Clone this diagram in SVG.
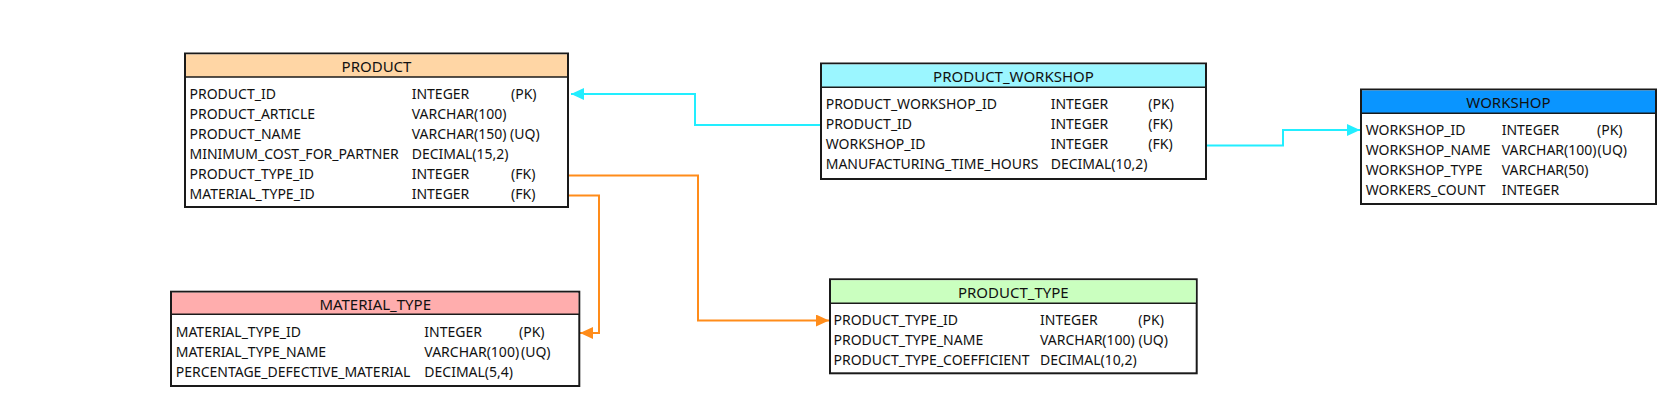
<svg xmlns="http://www.w3.org/2000/svg" width="1676" height="406" viewBox="0 0 1676 406">
<defs>
<style>
text{font-family:"Noto Sans","Open Sans","DejaVu Sans",sans-serif;font-size:14px;fill:#111}
.t{text-anchor:middle;font-size:15px}
.box{fill:#fff;stroke:#1a1a1a;stroke-width:2}
.sep{stroke:#1a1a1a;stroke-width:1.5}
.cy{fill:none;stroke:#22eeff;stroke-width:2}
.or{fill:none;stroke:#ff8c1a;stroke-width:2}
</style>
<marker id="ac" viewBox="0 0 13 12" refX="13" refY="6" markerWidth="13" markerHeight="12" markerUnits="userSpaceOnUse" orient="auto"><path d="M0,0L13,6L0,12z" fill="#22eeff"/></marker>
<marker id="ao" viewBox="0 0 13 12" refX="13" refY="6" markerWidth="13" markerHeight="12" markerUnits="userSpaceOnUse" orient="auto"><path d="M0,0L13,6L0,12z" fill="#ff8c1a"/></marker>
</defs>
<rect width="1676" height="406" fill="#fff"/>
<g id="connectors">
<path class="cy" d="M821,125H695V94H571" marker-end="url(#ac)"/>
<path class="cy" d="M1206,145.5H1283V130H1360" marker-end="url(#ac)"/>
<path class="or" d="M568,175.5H698V320.5H829" marker-end="url(#ao)"/>
<path class="or" d="M568,195.5H599V333H580" marker-end="url(#ao)"/>
</g>
<g id="product">
<rect class="box" x="185" y="53.5" width="383" height="153.5"/>
<rect x="186" y="54.5" width="381" height="22.5" fill="#ffd6a5"/>
<line class="sep" x1="185" y1="77" x2="568" y2="77"/>
<text class="t" x="376.5" y="72.3">PRODUCT</text>
<text x="189.5" y="99">PRODUCT_ID</text><text x="411.7" y="99">INTEGER</text><text x="511" y="99">(PK)</text>
<text x="189.5" y="119">PRODUCT_ARTICLE</text><text x="411.7" y="119">VARCHAR(100)</text>
<text x="189.5" y="139">PRODUCT_NAME</text><text x="411.7" y="139">VARCHAR(150) (UQ)</text>
<text x="189.5" y="159">MINIMUM_COST_FOR_PARTNER</text><text x="411.7" y="159">DECIMAL(15,2)</text>
<text x="189.5" y="179">PRODUCT_TYPE_ID</text><text x="411.7" y="179">INTEGER</text><text x="511" y="179">(FK)</text>
<text x="189.5" y="199">MATERIAL_TYPE_ID</text><text x="411.7" y="199">INTEGER</text><text x="511" y="199">(FK)</text>
</g>
<g id="product_workshop">
<rect class="box" x="821" y="63.5" width="385" height="115.5"/>
<rect x="822" y="64.5" width="383" height="22.8" fill="#9bf6ff"/>
<line class="sep" x1="821" y1="87.3" x2="1206" y2="87.3"/>
<text class="t" x="1013.5" y="82.3">PRODUCT_WORKSHOP</text>
<text x="825.7" y="109">PRODUCT_WORKSHOP_ID</text><text x="1050.7" y="109">INTEGER</text><text x="1148.3" y="109">(PK)</text>
<text x="825.7" y="129">PRODUCT_ID</text><text x="1050.7" y="129">INTEGER</text><text x="1148.3" y="129">(FK)</text>
<text x="825.7" y="149">WORKSHOP_ID</text><text x="1050.7" y="149">INTEGER</text><text x="1148.3" y="149">(FK)</text>
<text x="825.7" y="169">MANUFACTURING_TIME_HOURS</text><text x="1050.7" y="169">DECIMAL(10,2)</text>
</g>
<g id="workshop">
<rect class="box" x="1361" y="89.5" width="295" height="114.5"/>
<rect x="1362" y="90.5" width="293" height="22.8" fill="#0a95ff"/>
<line class="sep" x1="1361" y1="113.3" x2="1656" y2="113.3"/>
<text class="t" x="1508.5" y="108.3">WORKSHOP</text>
<text x="1365.7" y="135">WORKSHOP_ID</text><text x="1501.7" y="135">INTEGER</text><text x="1597" y="135">(PK)</text>
<text x="1365.7" y="155">WORKSHOP_NAME</text><text x="1501.7" y="155">VARCHAR(100)</text><text x="1597.5" y="155">(UQ)</text>
<text x="1365.7" y="175">WORKSHOP_TYPE</text><text x="1501.7" y="175">VARCHAR(50)</text>
<text x="1365.7" y="195">WORKERS_COUNT</text><text x="1501.7" y="195">INTEGER</text>
</g>
<g id="material_type">
<rect class="box" x="171" y="291.7" width="408.3" height="94.3"/>
<rect x="172" y="292.7" width="406.3" height="21.6" fill="#ffadad"/>
<line class="sep" x1="171" y1="314.3" x2="579.3" y2="314.3"/>
<text class="t" x="375.2" y="310">MATERIAL_TYPE</text>
<text x="175.7" y="337.3">MATERIAL_TYPE_ID</text><text x="424.3" y="337.3">INTEGER</text><text x="519" y="337.3">(PK)</text>
<text x="175.7" y="357.3">MATERIAL_TYPE_NAME</text><text x="424.3" y="357.3">VARCHAR(100)</text><text x="521" y="357.3">(UQ)</text>
<text x="175.7" y="377.3">PERCENTAGE_DEFECTIVE_MATERIAL</text><text x="424.3" y="377.3">DECIMAL(5,4)</text>
</g>
<g id="product_type">
<rect class="box" x="830" y="279.3" width="366.7" height="94"/>
<rect x="831" y="280.3" width="364.7" height="23" fill="#caffbf"/>
<line class="sep" x1="830" y1="303.3" x2="1196.7" y2="303.3"/>
<text class="t" x="1013.3" y="298.3">PRODUCT_TYPE</text>
<text x="833.5" y="325">PRODUCT_TYPE_ID</text><text x="1040" y="325">INTEGER</text><text x="1138.3" y="325">(PK)</text>
<text x="833.5" y="345">PRODUCT_TYPE_NAME</text><text x="1040" y="345">VARCHAR(100) (UQ)</text>
<text x="833.5" y="365">PRODUCT_TYPE_COEFFICIENT</text><text x="1040" y="365">DECIMAL(10,2)</text>
</g>
</svg>
